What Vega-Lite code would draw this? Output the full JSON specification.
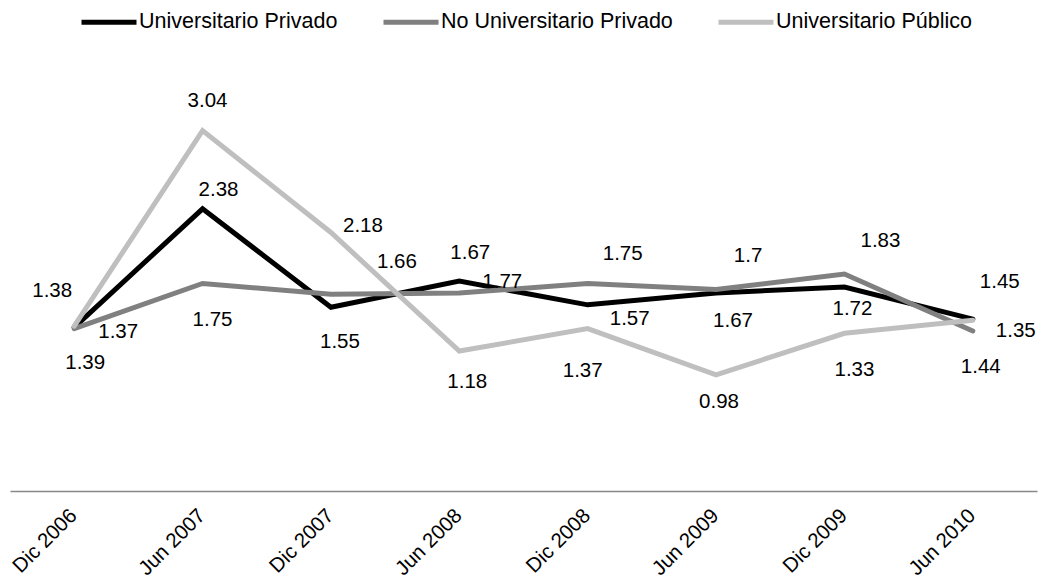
{
  "$schema": "https://vega.github.io/schema/vega-lite/v6.json",
  "width": 1027,
  "height": 415,
  "autosize": {"type": "none"},
  "padding": {"left": 10, "top": 76, "right": 2, "bottom": 88},
  "background": "white",
  "config": {
    "view": {"stroke": null},
    "font": "Liberation Sans",
    "text": {"fontSize": 20.5, "font": "Liberation Sans", "color": "#000000", "baseline": "middle", "align": "center"}
  },
  "data": {
    "values": [
      {"serie": "Universitario Privado", "periodo": "Dic 2006", "valor": 1.38},
      {"serie": "Universitario Privado", "periodo": "Jun 2007", "valor": 2.38},
      {"serie": "Universitario Privado", "periodo": "Dic 2007", "valor": 1.55},
      {"serie": "Universitario Privado", "periodo": "Jun 2008", "valor": 1.77},
      {"serie": "Universitario Privado", "periodo": "Dic 2008", "valor": 1.57},
      {"serie": "Universitario Privado", "periodo": "Jun 2009", "valor": 1.67},
      {"serie": "Universitario Privado", "periodo": "Dic 2009", "valor": 1.72},
      {"serie": "Universitario Privado", "periodo": "Jun 2010", "valor": 1.45},
      {"serie": "No Universitario Privado", "periodo": "Dic 2006", "valor": 1.37},
      {"serie": "No Universitario Privado", "periodo": "Jun 2007", "valor": 1.75},
      {"serie": "No Universitario Privado", "periodo": "Dic 2007", "valor": 1.66},
      {"serie": "No Universitario Privado", "periodo": "Jun 2008", "valor": 1.67},
      {"serie": "No Universitario Privado", "periodo": "Dic 2008", "valor": 1.75},
      {"serie": "No Universitario Privado", "periodo": "Jun 2009", "valor": 1.7},
      {"serie": "No Universitario Privado", "periodo": "Dic 2009", "valor": 1.83},
      {"serie": "No Universitario Privado", "periodo": "Jun 2010", "valor": 1.35},
      {"serie": "Universitario Público", "periodo": "Dic 2006", "valor": 1.39},
      {"serie": "Universitario Público", "periodo": "Jun 2007", "valor": 3.04},
      {"serie": "Universitario Público", "periodo": "Dic 2007", "valor": 2.18},
      {"serie": "Universitario Público", "periodo": "Jun 2008", "valor": 1.18},
      {"serie": "Universitario Público", "periodo": "Dic 2008", "valor": 1.37},
      {"serie": "Universitario Público", "periodo": "Jun 2009", "valor": 0.98},
      {"serie": "Universitario Público", "periodo": "Dic 2009", "valor": 1.33},
      {"serie": "Universitario Público", "periodo": "Jun 2010", "valor": 1.44}
    ]
  },
  "encoding": {
    "x": {
      "field": "periodo", "type": "ordinal", "sort": null,
      "scale": {"type": "point", "padding": 0.5},
      "axis": {
        "title": null, "ticks": false, "grid": false, "domain": true,
        "domainColor": "#888888", "domainWidth": 1.5,
        "labelAngle": -45, "labelAlign": "right", "labelBaseline": "top",
        "labelFontSize": 20.5, "labelFont": "Liberation Sans", "labelColor": "#000000",
        "labelPadding": 14, "labelOffset": -8, "labelOverlap": false
      }
    },
    "y": {
      "field": "valor", "type": "quantitative",
      "scale": {"domain": [0, 3.5], "nice": false, "zero": true},
      "axis": null
    }
  },
  "layer": [
    {
      "mark": {"type": "line", "strokeWidth": 5, "strokeCap": "round"},
      "encoding": {
        "color": {
          "field": "serie", "type": "nominal",
          "scale": {"domain": ["Universitario Privado", "No Universitario Privado", "Universitario Público"], "range": ["#000000", "#808080", "#bfbfbf"]},
          "legend": {
            "orient": "none", "legendX": 69, "legendY": -84, "direction": "horizontal",
            "title": null, "symbolType": "stroke", "symbolSize": 3025, "symbolStrokeWidth": 5,
            "labelFontSize": 21.5, "labelFont": "Liberation Sans", "labelColor": "#000000",
            "labelOffset": 0, "columnPadding": 35, "labelLimit": 400, "padding": 0
          }
        }
      }
    },
    {
      "encoding": {"text": {"field": "valor", "type": "quantitative"}},
      "layer": [
        {"transform": [{"filter": "datum.serie=='Universitario Privado'&&datum.periodo=='Dic 2006'"}], "mark": {"type": "text", "dx": -22, "dy": -36}},
        {"transform": [{"filter": "datum.serie=='Universitario Privado'&&datum.periodo=='Jun 2007'"}], "mark": {"type": "text", "dx": 16, "dy": -19}},
        {"transform": [{"filter": "datum.serie=='Universitario Privado'&&datum.periodo=='Dic 2007'"}], "mark": {"type": "text", "dx": 9, "dy": 35}},
        {"transform": [{"filter": "datum.serie=='Universitario Privado'&&datum.periodo=='Jun 2008'"}], "mark": {"type": "text", "dx": 43, "dy": 1}},
        {"transform": [{"filter": "datum.serie=='Universitario Privado'&&datum.periodo=='Dic 2008'"}], "mark": {"type": "text", "dx": 42, "dy": 14}},
        {"transform": [{"filter": "datum.serie=='Universitario Privado'&&datum.periodo=='Jun 2009'"}], "mark": {"type": "text", "dx": 17, "dy": 28}},
        {"transform": [{"filter": "datum.serie=='Universitario Privado'&&datum.periodo=='Dic 2009'"}], "mark": {"type": "text", "dx": 8, "dy": 22}},
        {"transform": [{"filter": "datum.serie=='Universitario Privado'&&datum.periodo=='Jun 2010'"}], "mark": {"type": "text", "dx": 27, "dy": -37}},
        {"transform": [{"filter": "datum.serie=='No Universitario Privado'&&datum.periodo=='Dic 2006'"}], "mark": {"type": "text", "dx": 44, "dy": 3}},
        {"transform": [{"filter": "datum.serie=='No Universitario Privado'&&datum.periodo=='Jun 2007'"}], "mark": {"type": "text", "dx": 10, "dy": 36}},
        {"transform": [{"filter": "datum.serie=='No Universitario Privado'&&datum.periodo=='Dic 2007'"}], "mark": {"type": "text", "dx": 66, "dy": -32}},
        {"transform": [{"filter": "datum.serie=='No Universitario Privado'&&datum.periodo=='Jun 2008'"}], "mark": {"type": "text", "dx": 11, "dy": -40}},
        {"transform": [{"filter": "datum.serie=='No Universitario Privado'&&datum.periodo=='Dic 2008'"}], "mark": {"type": "text", "dx": 35, "dy": -30}},
        {"transform": [{"filter": "datum.serie=='No Universitario Privado'&&datum.periodo=='Jun 2009'"}], "mark": {"type": "text", "dx": 32, "dy": -33}},
        {"transform": [{"filter": "datum.serie=='No Universitario Privado'&&datum.periodo=='Dic 2009'"}], "mark": {"type": "text", "dx": 36, "dy": -33}},
        {"transform": [{"filter": "datum.serie=='No Universitario Privado'&&datum.periodo=='Jun 2010'"}], "mark": {"type": "text", "dx": 43, "dy": 0}},
        {"transform": [{"filter": "datum.serie=='Universitario Público'&&datum.periodo=='Dic 2006'"}], "mark": {"type": "text", "dx": 11, "dy": 37}},
        {"transform": [{"filter": "datum.serie=='Universitario Público'&&datum.periodo=='Jun 2007'"}], "mark": {"type": "text", "dx": 5, "dy": -30}},
        {"transform": [{"filter": "datum.serie=='Universitario Público'&&datum.periodo=='Dic 2007'"}], "mark": {"type": "text", "dx": 32, "dy": -7}},
        {"transform": [{"filter": "datum.serie=='Universitario Público'&&datum.periodo=='Jun 2008'"}], "mark": {"type": "text", "dx": 8, "dy": 31}},
        {"transform": [{"filter": "datum.serie=='Universitario Público'&&datum.periodo=='Dic 2008'"}], "mark": {"type": "text", "dx": -5, "dy": 42}},
        {"transform": [{"filter": "datum.serie=='Universitario Público'&&datum.periodo=='Jun 2009'"}], "mark": {"type": "text", "dx": 3, "dy": 27}},
        {"transform": [{"filter": "datum.serie=='Universitario Público'&&datum.periodo=='Dic 2009'"}], "mark": {"type": "text", "dx": 10, "dy": 37}},
        {"transform": [{"filter": "datum.serie=='Universitario Público'&&datum.periodo=='Jun 2010'"}], "mark": {"type": "text", "dx": 8, "dy": 47}}
      ]
    }
  ]
}
